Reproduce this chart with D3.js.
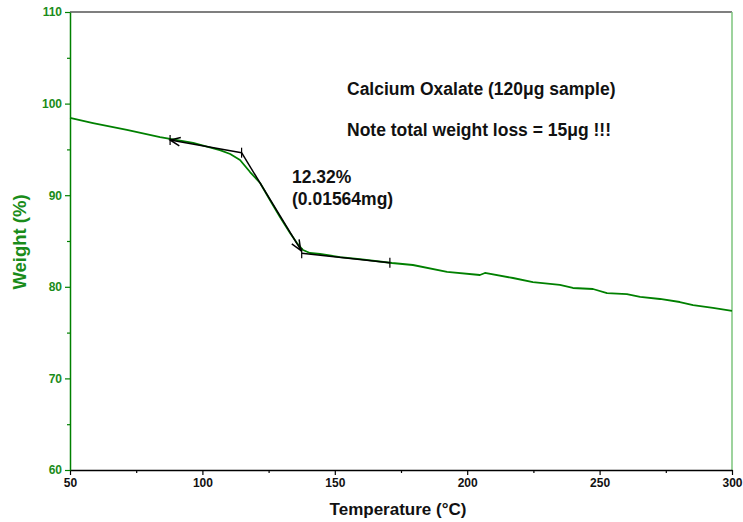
<!DOCTYPE html>
<html>
<head>
<meta charset="utf-8">
<script src="https://cdn.jsdelivr.net/npm/d3@7"></script>
<style>
  html, body { margin: 0; padding: 0; background: #fff; }
  svg { display: block; font-family: "Liberation Sans", Arial, sans-serif; }
</style>
</head>
<body>
<svg id="chart" width="743" height="522"></svg>
<script>
// TGA trace
const temps   = [50, 58.7, 71.5, 84, 96.5, 106.6, 110.5, 114.2, 118, 121.8, 125.5, 129.3, 133.1, 135.7, 138, 140.6, 144.4, 152, 159.5, 171.6, 179.5, 192.4, 204.8, 206.7, 217.3, 224.8, 235, 239.9, 247.5, 252.8, 260.3, 265.3, 272.8, 280.3, 285.3, 292.8, 300];
const weights = [98.43, 97.88, 97.12, 96.35, 95.70, 94.93, 94.5, 93.84, 92.53, 91.33, 89.48, 87.62, 85.87, 84.78, 84.02, 83.69, 83.58, 83.25, 83.03, 82.60, 82.38, 81.62, 81.29, 81.51, 80.96, 80.52, 80.20, 79.87, 79.76, 79.32, 79.21, 78.89, 78.67, 78.34, 78.01, 77.69, 77.36];

// step analysis construction points
const tanT = [87.8, 114.8, 137.5, 170.8];
const tanW = [96.03, 94.64, 83.66, 82.63];

const xTicks = [50, 100, 150, 200, 250, 300];
const yTicks = [60, 70, 80, 90, 100, 110];
const noteLines = ["Calcium Oxalate (120\u03bcg sample)", "Note total weight loss = 15\u03bcg !!!"];
const stepLines = ["12.32%", "(0.01564mg)"];

const green = "#008000";
const svg = d3.select("#chart");
const pLeft = 70, pRight = 732, pTop = 12, pBottom = 470;

const x = d3.scaleLinear().domain([50, 300]).range([pLeft, pRight]);
const y = d3.scaleLinear().domain([60, 110]).range([pBottom, pTop]);

// frame: top grey, right light green
svg.append("line").attr("x1", pLeft).attr("x2", pRight).attr("y1", pTop).attr("y2", pTop)
  .attr("stroke", "#555").attr("stroke-width", 1.5);
svg.append("line").attr("x1", pRight).attr("x2", pRight).attr("y1", pTop).attr("y2", pBottom)
  .attr("stroke", "#7cc47c").attr("stroke-width", 1.5);

// minor ticks
svg.append("g").attr("transform", "translate(0," + pBottom + ")")
  .call(d3.axisBottom(x).tickValues([75, 125, 175, 225, 275]).tickSize(3).tickFormat(""))
  .call(g => g.select(".domain").remove())
  .call(g => g.selectAll("line").attr("stroke", "#000").attr("stroke-width", 1.2));
svg.append("g").attr("transform", "translate(" + pLeft + ",0)")
  .call(d3.axisLeft(y).tickValues([65, 75, 85, 95, 105]).tickSize(3).tickFormat(""))
  .call(g => g.select(".domain").remove())
  .call(g => g.selectAll("line").attr("stroke", green).attr("stroke-width", 1.2));

// x axis
const gx = svg.append("g").attr("transform", "translate(0," + pBottom + ")")
  .call(d3.axisBottom(x).tickValues(xTicks).tickSize(5).tickSizeOuter(0).tickPadding(3));
gx.select(".domain").attr("stroke", "#000").attr("stroke-width", 1.5);
gx.selectAll(".tick line").attr("stroke", "#000").attr("stroke-width", 1.2);
gx.selectAll(".tick text").attr("fill", "#111").attr("font-size", 12).attr("font-weight", "bold")
  .attr("font-family", "Liberation Sans, Arial, sans-serif");

// y axis
const gy = svg.append("g").attr("transform", "translate(" + pLeft + ",0)")
  .call(d3.axisLeft(y).tickValues(yTicks).tickSize(5).tickSizeOuter(0).tickPadding(3));
gy.select(".domain").attr("stroke", green).attr("stroke-width", 1.5);
gy.selectAll(".tick line").attr("stroke", green).attr("stroke-width", 1.2);
gy.selectAll(".tick text").attr("fill", "#1a8c1a").attr("font-size", 12).attr("font-weight", "bold")
  .attr("font-family", "Liberation Sans, Arial, sans-serif");

// axis titles
svg.append("text").attr("x", 398).attr("y", 515).attr("text-anchor", "middle")
  .attr("font-size", 17).attr("font-weight", "bold").attr("fill", "#111").text("Temperature (\u00b0C)");
svg.append("text").attr("transform", "translate(26,242) rotate(-90)")
  .attr("text-anchor", "middle").attr("font-size", 18.5).attr("font-weight", "bold").attr("fill", "#1a8c1a")
  .text("Weight (%)");

// curve
const pts = temps.map((t, i) => [t, weights[i]]);
svg.append("path").datum(pts)
  .attr("fill", "none").attr("stroke", green).attr("stroke-width", 1.8).attr("stroke-linejoin", "round")
  .attr("d", d3.line().x(d => x(d[0])).y(d => y(d[1])));

// step construction lines
const tp = tanT.map((t, i) => [x(t), y(tanW[i])]);
const ann = svg.append("g").attr("stroke", "#000").attr("stroke-width", 1.5).attr("fill", "none");
ann.append("line").attr("x1", tp[1][0]).attr("y1", tp[1][1]).attr("x2", tp[0][0]).attr("y2", tp[0][1]);
ann.append("line").attr("x1", tp[1][0]).attr("y1", tp[1][1]).attr("x2", tp[2][0]).attr("y2", tp[2][1] - 2);
ann.append("line").attr("x1", tp[2][0]).attr("y1", tp[2][1]).attr("x2", tp[3][0]).attr("y2", tp[3][1]);
tp.forEach(p => {
  ann.append("line").attr("x1", p[0]).attr("x2", p[0]).attr("y1", p[1] - 5).attr("y2", p[1] + 5).attr("stroke-width", 1.2);
});

function arrowHead(from, to) {
  const ang = Math.atan2(to[1] - from[1], to[0] - from[0]);
  const len = 11, spread = 0.4;
  const a = [to[0] - len * Math.cos(ang - spread), to[1] - len * Math.sin(ang - spread)];
  const b = [to[0] - len * Math.cos(ang + spread), to[1] - len * Math.sin(ang + spread)];
  ann.append("path").attr("d", "M" + a + "L" + to + "L" + b);
}
arrowHead(tp[1], tp[0]);
arrowHead(tp[1], [tp[2][0] - 1, tp[2][1] - 3]);

// notes
svg.selectAll(".note").data(noteLines).enter().append("text")
  .attr("x", 347).attr("y", (d, i) => 95 + i * 41)
  .attr("font-size", 17.5).attr("font-weight", "bold").attr("fill", "#111").text(d => d);
svg.selectAll(".step").data(stepLines).enter().append("text")
  .attr("x", 292).attr("y", (d, i) => 183 + i * 22)
  .attr("font-size", 17.5).attr("font-weight", "bold").attr("fill", "#111").text(d => d);
</script>
</body>
</html>
